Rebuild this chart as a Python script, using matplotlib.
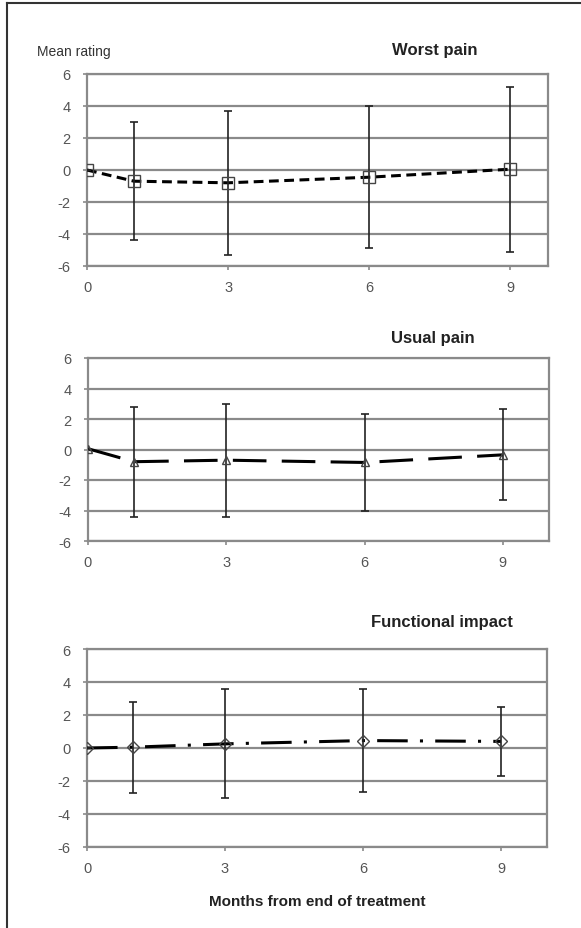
import numpy as np
import matplotlib
matplotlib.use("Agg")
import matplotlib.pyplot as plt
from matplotlib.lines import Line2D

plt.rcParams['font.family'] = ['Liberation Sans', 'DejaVu Sans']
plt.rcParams['axes.unicode_minus'] = False

# months from end of treatment
months = [0, 1, 3, 6, 9]

# mean ratings and standard deviations
worst_mean = [0.0, -0.7, -0.8, -0.45, 0.05]
worst_sd = [0.0, 3.7, 4.5, 4.45, 5.15]

usual_mean = [0.05, -0.8, -0.7, -0.85, -0.35]
usual_sd = [0.0, 3.6, 3.7, 3.15, 2.98]

func_mean = [0.0, 0.05, 0.25, 0.45, 0.4]
func_sd = [0.0, 2.75, 3.3, 3.1, 2.1]

titles = ["Worst pain", "Usual pain", "Functional impact"]
y_ticks = [-6, -4, -2, 0, 2, 4, 6]
x_ticks = [0, 3, 6, 9]

W, H = 581, 929
fig = plt.figure(figsize=(W / 100, H / 100), dpi=100)

def px_axes(left, top, right, bottom):
    return fig.add_axes([left / W, 1 - bottom / H, (right - left) / W, (bottom - top) / H])

panels = [
    (px_axes(87, 75, 548, 267), worst_mean, worst_sd, 's', 9, (0, (3.2, 1.8)), 9.8, (435, 50)),
    (px_axes(88, 359, 549, 542), usual_mean, usual_sd, '^', 6, (0, (11, 5)), 10, (433, 338)),
    (px_axes(87, 650, 547, 848), func_mean, func_sd, 'D', 6, (0, (10, 4, 1, 4)), 10, (442, 623)),
]

for (ax, mean, sd, mk, ms, ls, xmax, tpos), title in zip(panels, titles):
    ax.set_xlim(0, xmax)
    ax.set_ylim(-6, 6)
    ax.set_yticks(y_ticks)
    ax.set_xticks(x_ticks)
    ax.yaxis.grid(True, color='#8a8a8a', linewidth=1.6)
    ax.set_axisbelow(True)
    for s in ax.spines.values():
        s.set_color('#8a8a8a')
        s.set_linewidth(1.6)
    ax.tick_params(axis='both', colors='#8a8a8a', length=3, width=1.2,
                   labelsize=10.5, labelcolor='#555555')
    ax.tick_params(axis='y', pad=9)
    ax.tick_params(axis='x', pad=7)
    ax.plot(months, mean, color='black', linestyle=ls, linewidth=2.2, zorder=3)
    ax.errorbar(months, mean, yerr=sd, fmt='none', ecolor='#222222',
                elinewidth=1.2, capsize=3, capthick=1.2, zorder=4)
    ax.plot(months, mean, linestyle='none', marker=mk, markersize=ms,
            markerfacecolor='none', markeredgecolor='#444444',
            markeredgewidth=1.0, zorder=5)
    fig.text(tpos[0] / W, 1 - tpos[1] / H, title, ha='center', va='center',
             fontsize=12, fontweight='bold', color='#222222')

fig.text(37 / W, 1 - 52 / H, "Mean rating", ha='left', va='center',
         fontsize=10, color='#333333')
fig.text(317 / W, 1 - 902 / H, "Months from end of treatment", ha='center',
         va='center', fontsize=11, fontweight='bold', color='#222222')

# outer frame (left and top edges)
fig.add_artist(Line2D([7 / W, 7 / W], [0, 1 - 4 / H], color='#333333', linewidth=1.5))
fig.add_artist(Line2D([7 / W, 1], [1 - 4 / H, 1 - 4 / H], color='#333333', linewidth=1.5))

fig.savefig("out.png", dpi=100)
